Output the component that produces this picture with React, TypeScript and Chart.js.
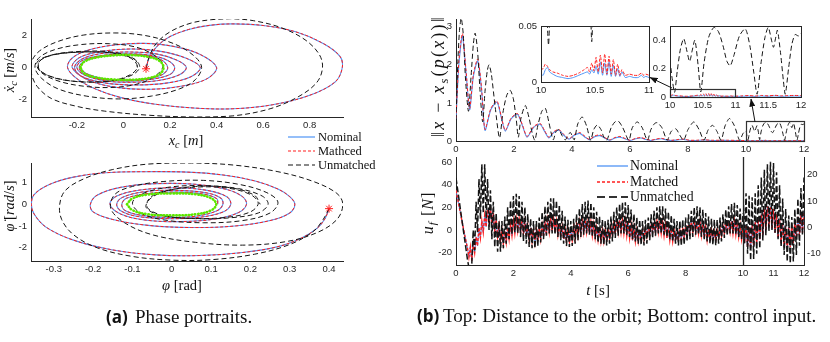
import React, { useEffect, useRef } from 'react';
import { Chart, registerables } from 'chart.js';

Chart.register(...registerables);

// ================= DATA =================
// (a) top: x_c vs dx_c
const a1Start = [[0.097, -0.08]];
const a1Orbit = [
  [-0.185, 0], [-0.17, 0.35], [-0.12, 0.62], [-0.04, 0.77], [0.04, 0.78], [0.11, 0.66], [0.155, 0.42], [0.172, 0],
  [0.155, -0.42], [0.11, -0.66], [0.04, -0.77], [-0.04, -0.76], [-0.12, -0.62], [-0.17, -0.35], [-0.185, 0],
];
const a1Nominal = [
  [0.097, -0.08], [0.11, 0.6], [0.145, 1.35], [0.2, 1.95], [0.28, 2.4], [0.37, 2.66], [0.47, 2.75], [0.6, 2.65],
  [0.74, 2.25], [0.86, 1.5], [0.93, 0.7], [0.94, 0], [0.91, -0.9], [0.8, -1.75], [0.64, -2.35], [0.47, -2.6],
  [0.3, -2.55], [0.13, -2.3], [-0.01, -1.9], [-0.12, -1.35], [-0.2, -0.7], [-0.24, 0], [-0.22, 0.6], [-0.15, 1.1],
  [-0.04, 1.42], [0.09, 1.52], [0.22, 1.32], [0.33, 0.82], [0.4, 0], [0.36, -0.7], [0.26, -1.15], [0.12, -1.37],
  [-0.03, -1.25], [-0.15, -0.8], [-0.22, 0], [-0.19, 0.62], [-0.1, 1.0], [0.03, 1.17], [0.16, 1.02], [0.27, 0.58],
  [0.33, 0], [0.29, -0.58], [0.19, -0.97], [0.05, -1.1], [-0.08, -0.97], [-0.18, -0.55], [-0.21, 0], [-0.18, 0.52],
  [-0.1, 0.87], [0.02, 0.98], [0.14, 0.86], [0.23, 0.46], [0.27, 0], [0.24, -0.46], [0.15, -0.82], [0.03, -0.93],
  [-0.08, -0.83], [-0.17, -0.45], [-0.2, 0], [-0.18, 0.42], [-0.11, 0.72], [0.0, 0.86], [0.11, 0.78], [0.19, 0.45],
  [0.22, 0], [0.2, -0.44], [0.12, -0.74], [0.02, -0.84], [-0.09, -0.74], [-0.17, -0.4], [-0.19, 0], [-0.17, 0.38],
  [-0.11, 0.66], [-0.02, 0.8], [0.08, 0.78], [0.16, 0.5], [0.19, 0], [0.17, -0.42], [0.11, -0.68], [0.02, -0.79],
  [-0.08, -0.72], [-0.16, -0.38], [-0.186, 0],
];
const a1Matched = a1Nominal;
const a1Unmatched = [
  [0.097, -0.08], [0.11, 0.65], [0.14, 1.5], [0.2, 2.25], [0.29, 2.8], [0.38, 3.02], [0.46, 3.08], [0.56, 2.95],
  [0.68, 2.5], [0.78, 1.75], [0.84, 0.85], [0.855, 0], [0.83, -0.95], [0.75, -1.85], [0.63, -2.6], [0.47, -3.05],
  [0.3, -3.12], [0.1, -3.0], [-0.08, -2.75], [-0.2, -2.45], [-0.31, -1.95], [-0.37, -1.2], [-0.395, -0.4],
  [-0.395, 0.35], [-0.36, 1.05], [-0.28, 1.65], [-0.17, 2.05], [-0.04, 2.18], [0.08, 2.05], [0.19, 1.65],
  [0.28, 1.0], [0.335, 0.1], [0.31, -0.75], [0.24, -1.35], [0.12, -1.8], [-0.02, -1.98], [-0.16, -1.8],
  [-0.28, -1.35], [-0.35, -0.7], [-0.38, 0], [-0.36, 0.65], [-0.29, 1.15], [-0.18, 1.45], [-0.06, 1.5],
  [0.05, 1.3], [0.13, 0.8], [0.17, 0.15], [0.14, -0.5], [0.07, -1.0], [-0.04, -1.25], [-0.17, -1.18],
  [-0.29, -0.8], [-0.36, -0.2], [-0.36, 0.4], [-0.3, 0.82], [-0.18, 1.02], [-0.05, 0.98], [0.04, 0.6],
  [0.07, 0.05], [0.04, -0.45], [-0.04, -0.82], [-0.16, -0.92], [-0.28, -0.7], [-0.36, -0.2], [-0.37, 0.35],
  [-0.31, 0.78], [-0.19, 0.97], [-0.06, 0.93], [0.03, 0.6], [0.06, 0.05], [0.03, -0.45], [-0.05, -0.83],
  [-0.17, -0.9], [-0.29, -0.68], [-0.36, -0.15], [-0.36, 0.4], [-0.3, 0.8], [-0.17, 0.98], [-0.04, 0.9],
  [0.05, 0.5], [0.06, 0],
];

// (a) bottom: phi vs dphi
const a2Start = [[0.4, -0.2]];
const a2Orbit = [
  [-0.114, 0], [-0.1, 0.27], [-0.06, 0.45], [0.0, 0.5], [0.06, 0.46], [0.1, 0.28], [0.113, 0], [0.1, -0.28],
  [0.06, -0.46], [0.0, -0.51], [-0.06, -0.46], [-0.1, -0.27], [-0.114, 0],
];
const a2Nominal = [
  [0.4, -0.2], [0.39, -0.65], [0.37, -1.1], [0.33, -1.55], [0.27, -1.95], [0.18, -2.22], [0.07, -2.36],
  [-0.04, -2.33], [-0.15, -2.1], [-0.25, -1.65], [-0.32, -1.05], [-0.35, -0.45], [-0.357, 0], [-0.35, 0.45],
  [-0.31, 0.92], [-0.25, 1.25], [-0.17, 1.45], [-0.07, 1.5], [0.04, 1.48], [0.13, 1.35], [0.21, 1.08],
  [0.27, 0.7], [0.3, 0.35], [0.313, 0], [0.3, -0.4], [0.25, -0.75], [0.16, -1.0], [0.05, -1.07], [-0.06, -0.97],
  [-0.15, -0.7], [-0.2, -0.35], [-0.207, 0], [-0.19, 0.42], [-0.13, 0.78], [-0.04, 0.95], [0.06, 0.92],
  [0.14, 0.68], [0.18, 0.35], [0.19, 0], [0.17, -0.38], [0.11, -0.68], [0.02, -0.8], [-0.07, -0.72],
  [-0.13, -0.45], [-0.157, 0], [-0.14, 0.38], [-0.08, 0.66], [0.01, 0.76], [0.09, 0.64], [0.14, 0.35],
  [0.15, 0], [0.13, -0.36], [0.07, -0.6], [-0.01, -0.66], [-0.09, -0.55], [-0.13, -0.3], [-0.14, 0],
  [-0.125, 0.32], [-0.07, 0.58], [0.01, 0.64], [0.09, 0.52], [0.125, 0.28], [0.13, 0], [0.115, -0.3],
  [0.06, -0.55], [-0.01, -0.6], [-0.08, -0.5], [-0.12, -0.27], [-0.127, 0], [-0.115, 0.28], [-0.06, 0.5],
  [0.01, 0.56], [0.08, 0.47], [0.115, 0.25], [0.117, 0],
];
const a2Matched = a2Nominal;
const a2Unmatched = [
  [0.4, -0.2], [0.385, -0.7], [0.36, -1.25], [0.3, -1.85], [0.21, -2.3], [0.1, -2.55], [0.0, -2.57],
  [-0.1, -2.4], [-0.19, -2.0], [-0.25, -1.4], [-0.28, -0.7], [-0.285, 0], [-0.27, 0.65], [-0.22, 1.2],
  [-0.15, 1.6], [-0.06, 1.85], [0.05, 1.9], [0.16, 1.8], [0.27, 1.5], [0.36, 1.05], [0.42, 0.5], [0.435, 0],
  [0.42, -0.7], [0.37, -1.3], [0.29, -1.72], [0.18, -1.88], [0.06, -1.75], [-0.05, -1.4], [-0.12, -0.85],
  [-0.155, -0.2], [-0.145, 0.45], [-0.1, 0.82], [-0.02, 1.05], [0.08, 1.1], [0.17, 0.92], [0.24, 0.55],
  [0.27, 0.1], [0.25, -0.4], [0.18, -0.75], [0.08, -0.85], [-0.02, -0.72], [-0.08, -0.4], [-0.1, 0.05],
  [-0.08, 0.45], [-0.01, 0.78], [0.08, 0.86], [0.17, 0.72], [0.23, 0.38], [0.245, 0], [0.22, -0.4],
  [0.15, -0.62], [0.06, -0.66], [-0.02, -0.52], [-0.06, -0.2], [-0.06, 0.2], [-0.03, 0.55], [0.05, 0.78],
  [0.14, 0.75], [0.2, 0.45], [0.22, 0.05], [0.2, -0.35], [0.14, -0.6], [0.05, -0.65], [-0.03, -0.5],
  [-0.065, -0.15], [-0.055, 0.25], [-0.02, 0.58], [0.06, 0.82], [0.15, 0.76], [0.21, 0.42], [0.225, 0],
];

// (b) top: distance to the orbit, t in [0,10]
const distNom = [
  [0, 0.58], [0.1, 2.0], [0.22, 2.76], [0.34, 1.85], [0.47, 0.82], [0.6, 1.7], [0.75, 2.1], [0.88, 1.35],
  [1.0, 0.28], [1.2, 0.82], [1.41, 1.02], [1.56, 0.62], [1.7, 0.26], [1.9, 0.58], [2.12, 0.7], [2.3, 0.38],
  [2.45, 0.1], [2.68, 0.36], [2.9, 0.44], [3.05, 0.26], [3.2, 0.08], [3.38, 0.23], [3.55, 0.28], [3.72, 0.15],
  [3.9, 0.05], [4.08, 0.15], [4.27, 0.2], [4.45, 0.1], [4.6, 0.03], [4.78, 0.11], [4.96, 0.14], [5.13, 0.08],
  [5.3, 0.02], [5.48, 0.08], [5.65, 0.1], [5.82, 0.06], [6.0, 0.015], [6.2, 0.06], [6.38, 0.08], [6.55, 0.04],
  [6.72, 0.015], [6.9, 0.04], [7.08, 0.06], [7.25, 0.03], [7.45, 0.015], [7.65, 0.03], [7.85, 0.04],
  [8.05, 0.015], [8.3, 0.015], [8.55, 0.025], [8.8, 0.015], [9.1, 0.015], [9.4, 0.015], [9.7, 0.01], [9.95, 0.008],
];
const distMat = [
  [0, 0.6], [0.1, 2.1], [0.22, 2.82], [0.34, 1.9], [0.47, 0.85], [0.6, 1.75], [0.75, 2.15], [0.88, 1.4],
  [1.0, 0.3], [1.2, 0.85], [1.41, 1.05], [1.56, 0.65], [1.7, 0.28], [1.9, 0.6], [2.12, 0.72], [2.3, 0.4],
  [2.45, 0.12], [2.68, 0.38], [2.9, 0.46], [3.05, 0.28], [3.2, 0.1], [3.38, 0.25], [3.55, 0.3], [3.72, 0.17],
  [3.9, 0.06], [4.08, 0.17], [4.27, 0.22], [4.45, 0.12], [4.6, 0.04], [4.78, 0.13], [4.96, 0.16], [5.13, 0.09],
  [5.3, 0.03], [5.48, 0.09], [5.65, 0.12], [5.82, 0.07], [6.0, 0.02], [6.2, 0.07], [6.38, 0.09], [6.55, 0.05],
  [6.72, 0.02], [6.9, 0.05], [7.08, 0.07], [7.25, 0.04], [7.45, 0.02], [7.65, 0.04], [7.85, 0.05], [8.05, 0.02],
  [8.3, 0.02], [8.55, 0.03], [8.8, 0.02], [9.1, 0.02], [9.4, 0.02], [9.7, 0.015], [9.95, 0.012],
];
const distUnm = [
  [0, 0.55], [0.06, 2.0], [0.12, 2.9], [0.18, 3.22], [0.25, 2.8], [0.33, 1.6], [0.43, 0.78], [0.52, 1.7],
  [0.6, 2.55], [0.66, 2.83], [0.74, 2.4], [0.83, 1.3], [0.92, 0.5], [1.0, 1.3], [1.08, 1.85], [1.14, 2.0],
  [1.22, 1.75], [1.35, 0.9], [1.5, 0.08], [1.62, 0.75], [1.75, 1.2], [1.87, 1.33], [1.98, 1.1], [2.08, 0.55],
  [2.15, 0.1], [2.24, 0.6], [2.39, 0.93], [2.52, 0.6], [2.63, 0.2], [2.72, 0.02], [2.82, 0.4], [2.96, 0.78],
  [3.08, 0.86], [3.2, 0.5], [3.35, 0.03], [3.45, 0.25], [3.55, 0.3], [3.65, 0.15], [3.77, 0.03], [3.88, 0.18],
  [3.95, 0.22], [4.02, 0.1], [4.08, 0.03], [4.2, 0.45], [4.35, 0.63], [4.5, 0.4], [4.64, 0.02], [4.75, 0.3],
  [4.87, 0.42], [5.0, 0.3], [5.1, 0.1], [5.2, 0.02], [5.35, 0.35], [5.48, 0.5], [5.6, 0.52], [5.75, 0.35],
  [5.96, 0.02], [6.08, 0.35], [6.25, 0.5], [6.42, 0.35], [6.6, 0.02], [6.72, 0.3], [6.85, 0.46], [6.94, 0.48],
  [7.1, 0.35], [7.28, 0.02], [7.42, 0.25], [7.58, 0.32], [7.72, 0.15], [7.85, 0.02], [8.0, 0.3], [8.2, 0.5],
  [8.38, 0.3], [8.55, 0.02], [8.7, 0.3], [8.85, 0.41], [9.0, 0.25], [9.14, 0.02], [9.28, 0.4], [9.43, 0.59],
  [9.6, 0.4], [9.78, 0.02], [9.9, 0.2],
];
// (b) top: detail t in [10,12]
const distNomZoom = [
  [10.0, 0.007], [10.02, 0.006], [10.04, 0.011], [10.06, 0.013], [10.08, 0.009], [10.11, 0.007], [10.15, 0.005],
  [10.2, 0.004], [10.25, 0.003], [10.3, 0.004], [10.35, 0.006], [10.4, 0.008], [10.43, 0.009], [10.45, 0.007],
  [10.47, 0.011], [10.49, 0.008], [10.51, 0.014], [10.53, 0.007], [10.55, 0.018], [10.57, 0.006], [10.59, 0.017],
  [10.61, 0.006], [10.63, 0.018], [10.65, 0.005], [10.67, 0.015], [10.69, 0.005], [10.71, 0.012], [10.73, 0.005],
  [10.75, 0.009], [10.78, 0.004], [10.82, 0.005], [10.86, 0.004], [10.9, 0.004], [10.93, 0.006], [10.95, 0.004],
  [10.97, 0.005], [11.0, 0.004],
];
const distMatZoom = [
  [10.0, 0.011], [10.02, 0.012], [10.04, 0.016], [10.06, 0.014], [10.08, 0.011], [10.11, 0.009], [10.15, 0.008],
  [10.2, 0.006], [10.25, 0.005], [10.3, 0.006], [10.35, 0.008], [10.4, 0.011], [10.43, 0.013], [10.45, 0.009],
  [10.47, 0.017], [10.49, 0.01], [10.51, 0.022], [10.53, 0.009], [10.55, 0.024], [10.57, 0.008], [10.59, 0.025],
  [10.61, 0.007], [10.63, 0.023], [10.65, 0.007], [10.67, 0.02], [10.69, 0.006], [10.71, 0.016], [10.73, 0.006],
  [10.75, 0.011], [10.78, 0.006], [10.82, 0.007], [10.86, 0.006], [10.9, 0.006], [10.93, 0.008], [10.95, 0.006],
  [10.97, 0.007], [11.0, 0.006],
];
const distNomTail = [
  [11.1, 0.005], [11.2, 0.006], [11.3, 0.004], [11.4, 0.007], [11.5, 0.005], [11.6, 0.008], [11.7, 0.005],
  [11.8, 0.006], [11.9, 0.007], [12.0, 0.006],
];
const distMatTail = [
  [11.1, 0.008], [11.2, 0.01], [11.3, 0.007], [11.4, 0.011], [11.5, 0.008], [11.6, 0.012], [11.7, 0.008],
  [11.8, 0.01], [11.9, 0.011], [12.0, 0.01],
];
const distUnmZoom = [
  [10.0, 0.26], [10.03, 0.14], [10.07, 0.033], [10.11, 0.18], [10.16, 0.34], [10.21, 0.41], [10.26, 0.32],
  [10.3, 0.25], [10.34, 0.33], [10.38, 0.4], [10.43, 0.22], [10.47, 0.036], [10.52, 0.24], [10.59, 0.42],
  [10.67, 0.49], [10.74, 0.46], [10.81, 0.36], [10.87, 0.25], [10.92, 0.22], [10.98, 0.3], [11.06, 0.43],
  [11.15, 0.48], [11.22, 0.36], [11.28, 0.17], [11.33, 0.02], [11.39, 0.24], [11.45, 0.42], [11.5, 0.49],
  [11.55, 0.4], [11.58, 0.35], [11.61, 0.41], [11.64, 0.47], [11.69, 0.3], [11.73, 0.12], [11.76, 0.02],
  [11.81, 0.2], [11.86, 0.37], [11.91, 0.44], [11.96, 0.43], [12.0, 0.45],
];
const zoomBoxMain = { t: [10, 12], v: [0, 0.5] };
const zoomBoxInset = { t: [10, 11], v: [0, 0.05] };

// (b) bottom: control input u_f [N]; sampled every 0.05 s (lo/hi alternate)
const uUnmStart = [[0, 46], [0.1, 28], [0.2, 10], [0.3, -8], [0.4, -26], [0.5, -40]];
const uUnmLo = [ // t = 0.55, 0.65, ..., 9.95
  -30, -18, -2, 10, 15,
  10, 0, -8, -15, -19, -19, -16, -12, -8, -4,
  -2, -3, -6, -10, -12, -15, -16, -16, -14, -11,
  -8, -5, -3, -3, -4, -6, -9, -12, -14, -15,
  -14, -12, -9, -6, -4, -3, -4, -6, -8, -11,
  -12, -13, -13.5, -12, -10, -7, -5, -3, -3, -4,
  -6, -8, -10, -12, -13, -13.5, -12, -9, -7, -5,
  -3, -3, -4, -6, -8, -10, -12, -13.5, -14, -13,
  -10, -8, -6, -4, -4, -6, -8, -10, -12, -13,
  -13.5, -12, -10, -7, -5, -3, -3, -4, -6, -8,
];
const uUnmHi = [ // t = 0.6, 0.7, ..., 10.0
  0, 25, 45, 58, 58,
  45, 35, 25, 15, 8, 8, 12, 20, 26, 30,
  32, 30, 25, 20, 14, 10, 8, 8, 11, 16,
  21, 25, 28, 28, 26, 22, 17, 12, 9, 8,
  10, 14, 19, 23, 25, 26, 24, 20, 16, 12,
  9, 8, 9, 12, 16, 20, 23, 24.5, 24.5, 22,
  18, 14, 11, 9, 8, 9, 11, 14, 17, 20,
  21, 21, 19, 16, 13, 10, 8, 8, 9, 11,
  14, 17, 20, 21, 20, 18, 15, 12, 10, 9,
  9, 11, 14, 18, 21, 23, 24, 22, 19, 15,
];
const uMatStart = [[0, 35], [0.1, 22], [0.2, 9], [0.3, -4], [0.4, -16], [0.45, -24], [0.5, -15]];
const uMatLo = [ // t = 0.55, ..., 9.95
  -27, -20, -14, -7, -2,
  3, 6, 4, -1, -6, -10, -12, -11, -8, -5,
  -3, -1, -2, -3, -6, -8, -10, -11, -10, -8,
  -6, -4, -2, -1, -2, -4, -6, -8, -10, -10,
  -9, -7, -5, -3, -2, -2, -3, -5, -7, -9,
  -10, -10, -9, -7, -5, -3, -2, -2, -3, -5,
  -7, -9, -10, -10, -9, -8, -6, -4, -2, -2,
  -2, -3, -5, -7, -9, -10, -10, -9, -8, -6,
  -4, -2, -2, -2, -3, -5, -7, -9, -10, -10,
  -9, -7, -5, -3, -2, -2, -3, -4, -6, -8,
];
const uMatHi = [ // t = 0.6, ..., 10.0
  -12, -6, 2, 8, 13,
  18, 20, 15, 9, 4, 0, -1, 2, 5, 8,
  10, 10, 9, 7, 4, 2, 0, 0, 2, 4,
  7, 9, 10, 10, 8, 6, 3, 1, 0, 1,
  3, 5, 7, 9, 9, 8, 7, 5, 2, 1,
  0, 0, 1, 3, 6, 8, 9, 9, 8, 6,
  4, 2, 0, -1, 0, 1, 3, 5, 7, 8,
  8, 7, 5, 3, 1, 0, -1, 0, 1, 3,
  5, 7, 8, 8, 7, 5, 3, 1, 0, -1,
  0, 2, 4, 6, 7, 8, 8, 6, 4, 2,
];
// right panel, t in [10,12]
const uUnmHiR = [15, 13, 12, 11.5, 13, 16, 19, 22, 24, 25, 24.5, 21, 16, 11, 7, 4.5, 4, 7, 11, 15, 19]; // 10.0..12.0
const uUnmLoR = [-6, -10, -12.5, -12, -10, -8, -5, -3, -1.5, -1, -2, -4.5, -7.5, -10.5, -13, -13.7, -13, -10.5, -7, -3]; // 10.05..11.95
const uMatHiR = [2, 1, 0, 1, 2, 3, 5, 7, 8, 8, 7, 5, 3, 1, 0, 0, 1, 2, 4, 5, 6];
const uMatLoR = [-6, -7.5, -8, -7, -6, -4.5, -3, -1, 0, -0.5, -2, -4, -6, -7.5, -8, -7.5, -6, -4, -3, -2];

// ticks
const a1XTicks = [-0.2, 0, 0.2, 0.4, 0.6, 0.8];
const a1YTicks = [-2, 0, 2];
const a2XTicks = [-0.3, -0.2, -0.1, 0, 0.1, 0.2, 0.3, 0.4];
const a2YTicks = [-2, -1, 0, 1];
const bTopXTicks = [0, 2, 4, 6, 8, 10, 12];
const bTopYTicks = [0, 1, 2, 3];
const in1XTicks = [10, 10.5, 11];
const in1YTicks = [0, 0.05];
const in2XTicks = [10, 10.5, 11, 11.5, 12];
const in2YTicks = [0, 0.2, 0.4];
const uXTicks = [0, 2, 4, 6, 8, 10];
const uYTicks = [-20, 0, 20, 40, 60];
const uRXTicks = [11, 12];
const uRYTicks = [-10, 0, 10, 20];

// ================= STYLE / HELPERS =================
const BLUE = '#4f94f5';
const RED = '#ff1f1f';
const BLACK = '#151515';
const GREEN = '#5ce600';
const AXIS = '#262626';
const SERIF = '"Liberation Serif", "Times New Roman", serif';
const TICKFONT = { family: '"Liberation Sans", Arial, Helvetica, sans-serif', size: 9.5 };

type P = { x: number; y: number };
const xy = (p: number[][]): P[] => p.map(([x, y]) => ({ x, y }));

function interleave(t0: number, dt: number, a: number[], b: number[]): P[] {
  const out: P[] = [];
  const n = Math.max(a.length, b.length);
  for (let k = 0; k < n; k++) {
    if (k < a.length) out.push({ x: +(t0 + 2 * k * dt).toFixed(3), y: a[k] });
    if (k < b.length) out.push({ x: +(t0 + (2 * k + 1) * dt).toFixed(3), y: b[k] });
  }
  return out;
}

const line = (data: P[], color: string, width: number, dash: number[], tension: number, extra: any = {}) => ({
  data, showLine: true, borderColor: color, backgroundColor: color, borderWidth: width, borderDash: dash,
  pointRadius: 0, pointHoverRadius: 0, tension, fill: false, ...extra,
});
const starDs = (data: P[]) => ({
  data, showLine: false, pointStyle: 'star', pointRadius: 4, borderColor: RED, backgroundColor: RED, borderWidth: 1,
});

function axis(pos: string, min: number, max: number, ticks: number[], size: number, pad: number) {
  return {
    type: 'linear', position: pos, min, max,
    grid: { display: false, drawTicks: false },
    border: { display: true, color: AXIS, width: 1 },
    ticks: { color: AXIS, font: TICKFONT, padding: pad, autoSkip: false, maxRotation: 0, callback: (v: any) => String(v) },
    afterBuildTicks: (s: any) => { s.ticks = ticks.map((v) => ({ value: v })); },
    afterFit: (s: any) => {
      if (pos === 'left' || pos === 'right') s.width = size; else s.height = size;
      s.paddingLeft = 0; s.paddingRight = 0; s.paddingTop = 0; s.paddingBottom = 0;
    },
  };
}

const al = (v: number) => Math.round(v - 0.5) + 0.5;
const framePlugin = {
  id: 'frame',
  afterDraw(chart: any) {
    const { ctx, chartArea: a } = chart;
    ctx.save(); ctx.strokeStyle = AXIS; ctx.lineWidth = 1;
    ctx.strokeRect(al(a.left), al(a.top), al(a.right) - al(a.left), al(a.bottom) - al(a.top));
    ctx.restore();
  },
};
const dividerPlugin = {
  id: 'divider',
  afterDraw(chart: any) {
    const { ctx, chartArea: a } = chart;
    ctx.save(); ctx.strokeStyle = AXIS; ctx.lineWidth = 1.3;
    ctx.beginPath(); ctx.moveTo(al(a.left), a.top); ctx.lineTo(al(a.left), a.bottom); ctx.stroke();
    ctx.restore();
  },
};
const zoomBox = (b: { t: number[]; v: number[] }) => ({
  id: 'zoombox',
  afterDatasetsDraw(chart: any) {
    const { ctx, scales } = chart;
    const l = al(scales.x.getPixelForValue(b.t[0])), r = al(scales.x.getPixelForValue(b.t[1]));
    const t = al(scales.y.getPixelForValue(b.v[1])), btm = al(scales.y.getPixelForValue(b.v[0]));
    ctx.save(); ctx.strokeStyle = '#333'; ctx.lineWidth = 1.2;
    ctx.strokeRect(l, t, r - l, btm - t); ctx.restore();
  },
});

type Spec = {
  rect: number[]; m: { l: number; r: number; t: number; b: number };
  x: number[]; y: number[]; xTicks: number[]; yTicks: number[]; yPos?: string;
  datasets: any[]; plugins?: any[];
};

function buildConfig(s: Spec) {
  const right = s.yPos === 'right';
  return {
    type: 'scatter',
    data: { datasets: s.datasets },
    options: {
      animation: false, responsive: false, maintainAspectRatio: false, devicePixelRatio: 1, events: [],
      layout: { autoPadding: false, padding: { left: right ? s.m.l : 0, right: right ? 0 : s.m.r, top: s.m.t, bottom: 0 } },
      plugins: { legend: { display: false }, tooltip: { enabled: false } },
      scales: {
        x: axis('bottom', s.x[0], s.x[1], s.xTicks, s.m.b, 3),
        y: axis(right ? 'right' : 'left', s.y[0], s.y[1], s.yTicks, right ? s.m.r : s.m.l, right ? 3 : 4),
      },
    },
    plugins: s.plugins || [],
  };
}

function Plot({ spec }: { spec: Spec }) {
  const ref = useRef<HTMLCanvasElement | null>(null);
  const { rect, m } = spec;
  const w = rect[2] - rect[0] + m.l + m.r;
  const h = rect[3] - rect[1] + m.t + m.b;
  useEffect(() => {
    const chart = new Chart(ref.current as HTMLCanvasElement, buildConfig(spec) as any);
    return () => chart.destroy();
  }, []);
  return (
    <canvas ref={ref} width={w} height={h}
      style={{ position: 'absolute', left: rect[0] - m.l, top: rect[1] - m.t, width: w, height: h }} />
  );
}

// ================= SPECS =================
const PH_T = 0.35;
const phaseSets = (start: number[][], orbit: number[][], nom: number[][], mat: number[][], unm: number[][]) => [
  starDs(xy(start)),
  line(xy(orbit), GREEN, 2.6, [0.5, 2.6], 0.4, { borderCapStyle: 'round' }),
  line(xy(unm), BLACK, 1, [5, 3], PH_T),
  line(xy(mat), RED, 1, [3, 2], PH_T),
  line(xy(nom), BLUE, 1.1, [], PH_T),
];

const specA1: Spec = {
  rect: [31, 19, 343, 117], m: { l: 31, r: 8, t: 6, b: 22 },
  x: [-0.397, 0.943], y: [-3.12, 3.06], xTicks: a1XTicks, yTicks: a1YTicks,
  datasets: phaseSets(a1Start, a1Orbit, a1Nominal, a1Matched, a1Unmatched),
};
const specA2: Spec = {
  rect: [31, 163, 343, 261], m: { l: 31, r: 8, t: 6, b: 22 },
  x: [-0.358, 0.4355], y: [-2.61, 1.9], xTicks: a2XTicks, yTicks: a2YTicks,
  datasets: phaseSets(a2Start, a2Orbit, a2Nominal, a2Matched, a2Unmatched),
};
const specBTop: Spec = {
  rect: [456, 19, 804, 141], m: { l: 26, r: 8, t: 6, b: 16 },
  x: [0, 12], y: [0, 3.2], xTicks: bTopXTicks, yTicks: bTopYTicks,
  datasets: [
    line(xy([...distUnm, ...distUnmZoom]), BLACK, 1, [5, 3], 0.25),
    line(xy([...distMat, ...distMatZoom, ...distMatTail]), RED, 1, [3, 2], 0.25),
    line(xy([...distNom, ...distNomZoom, ...distNomTail]), BLUE, 1.1, [], 0.25),
  ],
  plugins: [zoomBox(zoomBoxMain)],
};
const specIn1: Spec = {
  rect: [541, 26, 649, 82], m: { l: 26, r: 6, t: 4, b: 16 },
  x: [10, 11], y: [0, 0.05], xTicks: in1XTicks, yTicks: in1YTicks,
  datasets: [
    line(xy(distUnmZoom), BLACK, 1, [5, 3], 0.2),
    line(xy(distMatZoom), RED, 1, [3, 1.5], 0.2),
    line(xy(distNomZoom), BLUE, 1, [], 0.2),
  ],
  plugins: [framePlugin],
};
const specIn2: Spec = {
  rect: [670, 26, 801, 97], m: { l: 22, r: 8, t: 6, b: 16 },
  x: [10, 12], y: [0, 0.5], xTicks: in2XTicks, yTicks: in2YTicks,
  datasets: [
    line(xy(distUnmZoom), BLACK, 1, [5, 3], 0.25),
    line(xy([...distMatZoom, ...distMatTail]), RED, 1, [3, 2], 0.2),
    line(xy([...distNomZoom, ...distNomTail]), BLUE, 1, [], 0.2),
  ],
  plugins: [framePlugin, zoomBox(zoomBoxInset)],
};
const uMatL = [...xy(uMatStart), ...interleave(0.55, 0.05, uMatLo, uMatHi)];
const uUnmL = [...xy(uUnmStart), ...interleave(0.55, 0.05, uUnmLo, uUnmHi)];
const specUL: Spec = {
  rect: [456, 157, 743, 265], m: { l: 26, r: 8, t: 6, b: 20 },
  x: [0, 10], y: [-30.8, 64.4], xTicks: uXTicks, yTicks: uYTicks,
  datasets: [
    line(uUnmL, BLACK, 1.5, [6, 2.5], 0),
    line(uMatL, RED, 1.4, [3, 1.5], 0),
    line(uMatL, BLUE, 1, [], 0),
  ],
};
const uMatR = interleave(10, 0.05, uMatHiR, uMatLoR);
const uUnmR = interleave(10, 0.05, uUnmHiR, uUnmLoR);
const specUR: Spec = {
  rect: [743, 157, 804, 265], m: { l: 8, r: 26, t: 6, b: 20 }, yPos: 'right',
  x: [10, 12], y: [-14.3, 26.8], xTicks: uRXTicks, yTicks: uRYTicks,
  datasets: [
    line(uUnmR, BLACK, 1.5, [6, 2.5], 0),
    line(uMatR, RED, 1.4, [3, 1.5], 0),
    line(uMatR, BLUE, 1, [], 0),
  ],
  plugins: [dividerPlugin],
};

// ================= TEXT HELPERS =================
const Sub = ({ children }: { children: any }) => (
  <span style={{ fontSize: '0.7em', position: 'relative', top: '0.3em' }}>{children}</span>
);
function Txt({ x, y, size, rot, left, children, style }: any) {
  const tf = left ? 'translate(0,-50%)' : `translate(-50%,-50%)${rot ? ' rotate(-90deg)' : ''}`;
  return (
    <div style={{
      position: 'absolute', left: x, top: y, transform: tf, fontFamily: SERIF, fontSize: size,
      whiteSpace: 'nowrap', lineHeight: 1, color: '#111', ...style,
    }}>{children}</div>
  );
}
const I = ({ children }: { children: any }) => <span style={{ fontStyle: 'italic' }}>{children}</span>;

export default function App() {
  useEffect(() => { document.body.style.margin = '0'; }, []);
  const capBold = { fontFamily: '"Open Sans", "DejaVu Sans", sans-serif', fontWeight: 700 };
  return (
    <div style={{ position: 'absolute', left: 0, top: 0, width: 830, height: 342, background: '#fff', overflow: 'hidden' }}>
      <Plot spec={specA1} />
      <Plot spec={specA2} />
      <Plot spec={specBTop} />
      <Plot spec={specIn1} />
      <Plot spec={specIn2} />
      <Plot spec={specUL} />
      <Plot spec={specUR} />

      <svg width={830} height={342} style={{ position: 'absolute', left: 0, top: 0, pointerEvents: 'none' }}>
        <defs>
          <marker id="ah" markerWidth="8" markerHeight="6" refX="7.5" refY="3" orient="auto" markerUnits="userSpaceOnUse">
            <path d="M0,0 L8,3 L0,6 z" fill="#111" />
          </marker>
        </defs>
        <line x1={672} y1={88} x2={650} y2={77.5} stroke="#111" strokeWidth={1} markerEnd="url(#ah)" />
        <line x1={755} y1={122} x2={751} y2={99} stroke="#111" strokeWidth={1} markerEnd="url(#ah)" />
        {/* legend (a) */}
        <line x1={288} y1={137} x2={315} y2={137} stroke={BLUE} strokeWidth={1.2} />
        <line x1={288} y1={151} x2={315} y2={151} stroke={RED} strokeWidth={1.2} strokeDasharray="3 2" />
        <line x1={288} y1={165} x2={315} y2={165} stroke={BLACK} strokeWidth={1.2} strokeDasharray="5 3" />
        {/* legend (b) */}
        <line x1={597} y1={166} x2={628} y2={166} stroke={BLUE} strokeWidth={1.3} />
        <line x1={597} y1={182} x2={628} y2={182} stroke={RED} strokeWidth={1.3} strokeDasharray="3 2" />
        <line x1={597} y1={197} x2={628} y2={197} stroke="#333" strokeWidth={1.8} strokeDasharray="8 4" />
      </svg>

      {/* (a) labels */}
      <Txt x={9} y={70} size={14.5} rot><I>ẋ</I><Sub><I>c</I></Sub>&nbsp;[<I>m</I>/<I>s</I>]</Txt>
      <Txt x={186} y={140} size={14.5}><I>x</I><Sub><I>c</I></Sub>&nbsp;[<I>m</I>]</Txt>
      <Txt x={9} y={206} size={14.5} rot><I>{'\u03C6\u0307'}</I>&nbsp;[<I>rad</I>/<I>s</I>]</Txt>
      <Txt x={182} y={285} size={14.5}><I>φ</I>&nbsp;[rad]</Txt>
      <Txt x={318} y={137} size={12.5} left>Nominal</Txt>
      <Txt x={318} y={151} size={12.5} left>Mathced</Txt>
      <Txt x={318} y={165} size={12.5} left>Unmatched</Txt>
      <Txt x={106} y={316} size={17} left style={capBold}>(a)</Txt>
      <Txt x={135} y={316} size={19} left>Phase portraits.</Txt>

      {/* (b) labels */}
      <Txt x={438} y={76} size={18} rot style={{ letterSpacing: 2.2 }}>‖<I>x</I> − <I>x</I><Sub><I>s</I></Sub>(<I>p</I>(<I>x</I>))‖</Txt>
      <Txt x={428} y={213} size={16} rot style={{ letterSpacing: 1 }}><I>u</I><Sub><I>f</I></Sub>&nbsp;[<I>N</I>]</Txt>
      <Txt x={598} y={290} size={15}><I>t</I>&nbsp;[s]</Txt>
      <Txt x={630} y={166} size={13.8} left>Nominal</Txt>
      <Txt x={630} y={182} size={13.8} left>Matched</Txt>
      <Txt x={630} y={197} size={13.8} left>Unmatched</Txt>
      <Txt x={417} y={315} size={17} left style={capBold}>(b)</Txt>
      <Txt x={443} y={315} size={19} left>Top: Distance to the orbit; Bottom: control input.</Txt>
    </div>
  );
}
